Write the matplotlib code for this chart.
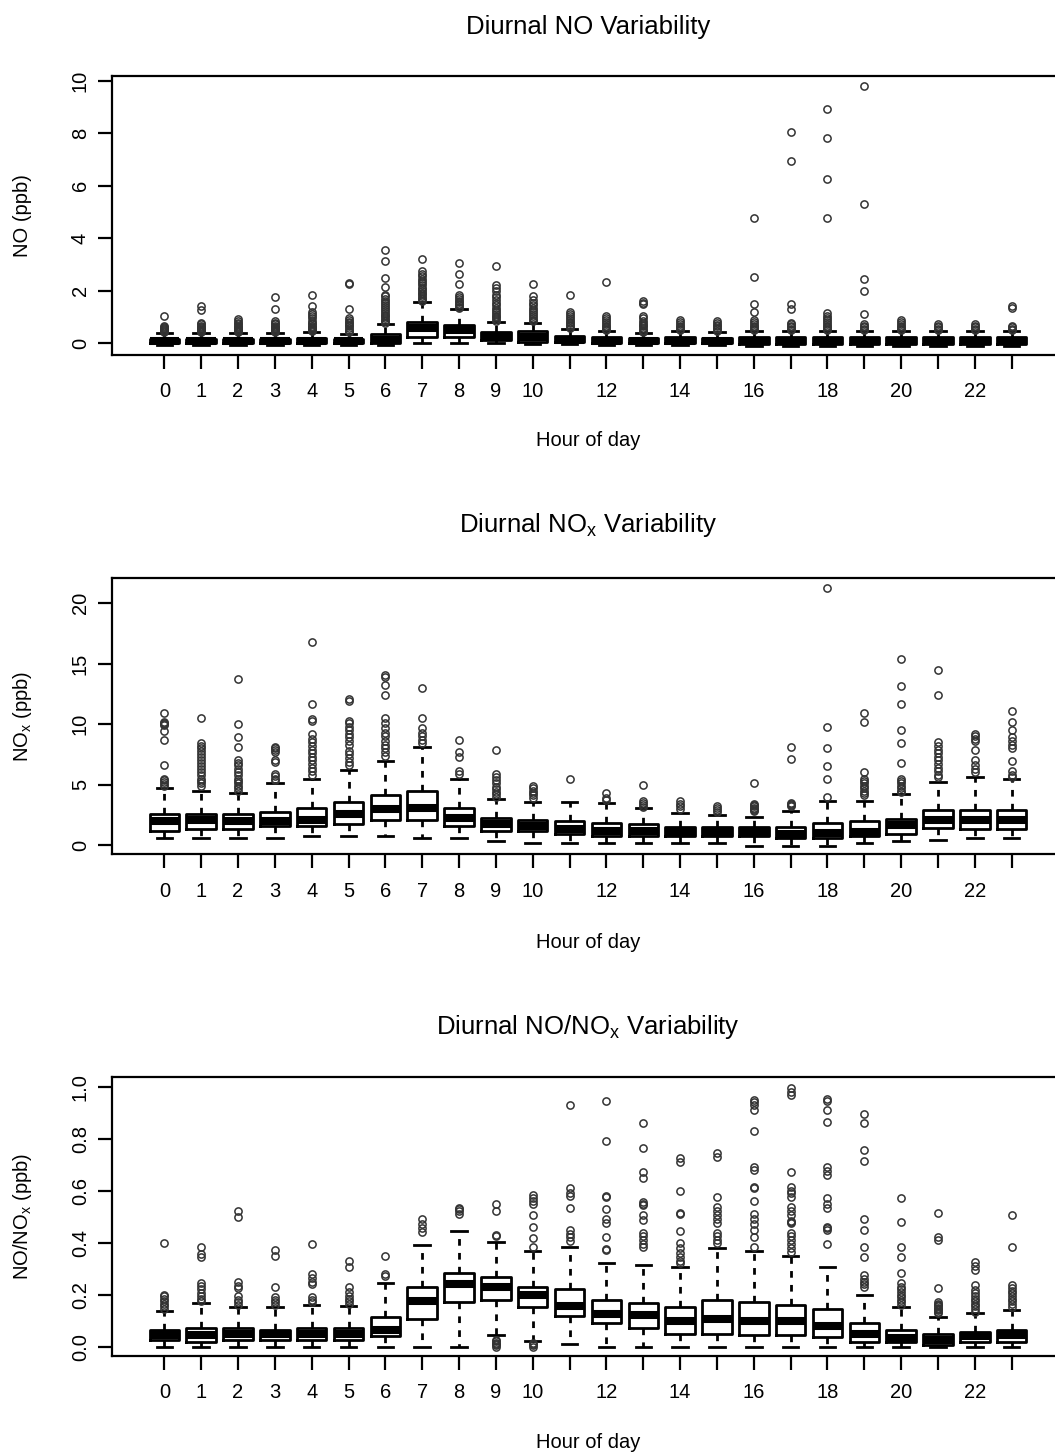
import matplotlib
matplotlib.use('Agg')
import matplotlib.pyplot as plt

plt.rcParams['font.family'] = ['Liberation Sans', 'DejaVu Sans']
plt.rcParams['mathtext.fontset'] = 'custom'
plt.rcParams['mathtext.rm'] = 'Liberation Sans'
plt.rcParams['mathtext.it'] = 'Liberation Sans:italic'
plt.rcParams['mathtext.bf'] = 'Liberation Sans:bold'

# ---------------- data ----------------
hours = list(range(24))
xtick_labels = ['0', '1', '2', '3', '4', '5', '6', '7', '8', '9', '10', '',
                '12', '', '14', '', '16', '', '18', '', '20', '', '22', '']

# Panel 1: NO (ppb)
no_wlo = [-0.07, -0.07, -0.07, -0.07, -0.07, -0.05, -0.05, 0.0, 0.0, 0.0, -0.02, -0.02,
          -0.07, -0.07, -0.08, -0.07, -0.1, -0.1, -0.1, -0.1, -0.1, -0.1, -0.1, -0.1]
no_q1 = [0.0, 0.0, 0.0, 0.0, 0.0, 0.01, 0.02, 0.25, 0.23, 0.12, 0.05, 0.03,
         0.0, 0.0, 0.0, 0.0, -0.02, -0.02, -0.02, -0.02, -0.02, -0.02, -0.02, -0.02]
no_med = [0.07, 0.07, 0.07, 0.07, 0.08, 0.07, 0.14, 0.58, 0.52, 0.28, 0.25, 0.14,
          0.08, 0.08, 0.08, 0.08, 0.08, 0.07, 0.07, 0.07, 0.07, 0.07, 0.07, 0.07]
no_q3 = [0.17, 0.17, 0.17, 0.17, 0.19, 0.15, 0.37, 0.8, 0.7, 0.44, 0.45, 0.27,
         0.22, 0.2, 0.22, 0.2, 0.22, 0.22, 0.22, 0.22, 0.22, 0.22, 0.22, 0.22]
no_whi = [0.38, 0.38, 0.38, 0.38, 0.42, 0.35, 0.72, 1.56, 1.29, 0.8, 0.78, 0.53,
          0.45, 0.38, 0.45, 0.42, 0.45, 0.45, 0.45, 0.45, 0.45, 0.45, 0.45, 0.45]
no_out = [
    [0.42, 0.46, 0.5, 0.54, 0.58, 0.62, 0.66, 1.04],
    [0.42, 0.46, 0.5, 0.54, 0.58, 0.62, 0.66, 0.72, 0.77, 1.25, 1.42],
    [0.42, 0.46, 0.5, 0.54, 0.58, 0.62, 0.66, 0.72, 0.78, 0.85, 0.92],
    [0.42, 0.46, 0.5, 0.54, 0.58, 0.62, 0.66, 0.72, 0.78, 0.85, 1.3, 1.75],
    [0.46, 0.5, 0.54, 0.58, 0.62, 0.66, 0.72, 0.78, 0.86, 0.95, 1.05, 1.12, 1.2, 1.4, 1.83],
    [0.42, 0.47, 0.52, 0.58, 0.64, 0.7, 0.76, 0.82, 0.88, 0.95, 1.3, 2.25, 2.3],
    [0.78, 0.84, 0.9, 0.96, 1.02, 1.08, 1.15, 1.22, 1.3, 1.38, 1.46, 1.54, 1.62, 1.7, 1.78,
     1.85, 2.15, 2.5, 3.12, 3.55],
    [1.62, 1.68, 1.74, 1.8, 1.86, 1.92, 1.98, 2.05, 2.12, 2.2, 2.28, 2.36, 2.45, 2.55, 2.65,
     2.75, 3.2],
    [1.34, 1.39, 1.44, 1.5, 1.56, 1.62, 1.68, 1.75, 1.82, 2.25, 2.65, 3.05],
    [0.86, 0.92, 0.98, 1.05, 1.12, 1.2, 1.28, 1.36, 1.45, 1.55, 1.65, 1.75, 1.85, 2.0, 2.1,
     2.2, 2.94],
    [0.84, 0.9, 0.96, 1.03, 1.1, 1.18, 1.26, 1.35, 1.45, 1.55, 1.65, 1.78, 2.26],
    [0.58, 0.64, 0.7, 0.76, 0.82, 0.88, 0.95, 1.02, 1.1, 1.2, 1.82],
    [0.5, 0.55, 0.6, 0.66, 0.72, 0.8, 0.88, 0.96, 1.05, 2.35],
    [0.42, 0.47, 0.52, 0.58, 0.64, 0.7, 0.78, 0.86, 0.95, 1.05, 1.5, 1.55, 1.6],
    [0.5, 0.55, 0.6, 0.66, 0.72, 0.8, 0.88],
    [0.48, 0.53, 0.58, 0.64, 0.7, 0.77, 0.85],
    [0.5, 0.55, 0.6, 0.66, 0.72, 0.8, 0.88, 1.2, 1.5, 2.52, 4.76],
    [0.5, 0.55, 0.6, 0.66, 0.72, 0.78, 1.3, 1.5, 6.94, 8.06],
    [0.5, 0.55, 0.6, 0.66, 0.72, 0.8, 0.88, 0.95, 1.05, 1.14, 4.76, 6.24, 7.8, 8.93],
    [0.5, 0.55, 0.6, 0.66, 0.72, 1.12, 1.99, 2.44, 5.29, 9.81],
    [0.5, 0.55, 0.6, 0.66, 0.72, 0.8, 0.88],
    [0.5, 0.55, 0.6, 0.66, 0.72],
    [0.5, 0.55, 0.6, 0.66, 0.72],
    [0.5, 0.55, 0.6, 0.65, 1.35, 1.4],
]

# Panel 2: NOx (ppb)
nox_wlo = [0.55, 0.55, 0.55, 0.55, 0.74, 0.74, 0.74, 0.55, 0.55, 0.36, 0.14, 0.14,
           0.14, 0.14, 0.14, 0.14, -0.08, -0.08, -0.08, 0.14, 0.36, 0.41, 0.6, 0.6]
nox_q1 = [1.15, 1.35, 1.3, 1.55, 1.6, 1.7, 2.05, 2.1, 1.6, 1.15, 1.15, 0.93,
          0.73, 0.73, 0.73, 0.73, 0.73, 0.55, 0.55, 0.73, 0.93, 1.4, 1.35, 1.35]
nox_med = [1.95, 2.04, 1.96, 2.0, 2.05, 2.56, 2.98, 3.09, 2.2, 1.77, 1.57, 1.32,
           1.15, 1.15, 1.1, 1.1, 1.1, 0.95, 1.0, 1.1, 1.65, 2.07, 2.08, 2.1]
nox_q3 = [2.55, 2.6, 2.55, 2.73, 3.1, 3.55, 4.1, 4.45, 3.1, 2.2, 2.05, 1.95,
          1.83, 1.7, 1.5, 1.5, 1.5, 1.5, 1.83, 1.95, 2.15, 2.93, 2.93, 2.93]
nox_whi = [4.68, 4.5, 4.33, 5.1, 5.43, 6.2, 6.98, 8.14, 5.46, 3.78, 3.59, 3.59,
           3.45, 3.03, 2.68, 2.48, 2.29, 2.81, 3.64, 3.64, 4.22, 5.24, 5.65, 5.46]
nox_out = [
    [4.9, 5.05, 5.2, 5.35, 5.5, 6.6, 8.7, 9.4, 9.9, 10.0, 10.1, 10.2, 10.9],
    [4.9, 5.1, 5.3, 5.5, 5.8, 6.0, 6.3, 6.5, 6.8, 7.0, 7.3, 7.5, 7.8, 8.0, 8.2, 8.4, 10.55],
    [4.5, 4.7, 4.9, 5.1, 5.3, 5.5, 5.8, 6.0, 6.3, 6.6, 6.8, 7.0, 8.15, 8.9, 10.0, 13.7],
    [5.35, 5.5, 5.7, 5.9, 6.9, 7.0, 7.7, 7.85, 8.0, 8.1],
    [5.8, 6.1, 6.4, 6.7, 7.0, 7.3, 7.6, 7.9, 8.2, 8.5, 8.8, 9.2, 10.3, 10.4, 11.7, 16.8],
    [6.6, 6.9, 7.2, 7.5, 7.8, 8.3, 8.6, 8.9, 9.2, 9.5, 9.8, 10.1, 10.3, 11.9, 12.1],
    [7.4, 7.7, 8.0, 8.3, 8.6, 9.0, 9.3, 9.7, 10.1, 10.5, 12.4, 13.2, 13.9, 14.1],
    [8.4, 8.7, 9.0, 9.3, 9.7, 10.5, 13.0],
    [5.9, 6.1, 7.3, 7.7, 8.7],
    [4.0, 4.2, 4.4, 4.6, 4.8, 5.1, 5.4, 5.6, 5.9, 7.9],
    [3.9, 4.1, 4.3, 4.5, 4.7, 4.9],
    [5.43],
    [3.7, 3.9, 4.3],
    [3.17, 3.3, 3.45, 3.64, 4.97],
    [3.0, 3.2, 3.4, 3.6],
    [2.75, 2.9, 3.05, 3.2],
    [2.8, 2.9, 3.0, 3.1, 3.2, 3.3, 3.4, 5.1],
    [3.2, 3.3, 3.4, 3.5, 7.12, 8.08],
    [4.0, 5.45, 6.55, 8.05, 9.8, 21.3],
    [4.1, 4.3, 4.5, 4.7, 4.9, 5.1, 5.3, 5.5, 6.05, 10.15, 10.9],
    [4.35, 4.5, 4.7, 4.9, 5.1, 5.3, 5.5, 6.75, 8.45, 9.55, 11.65, 13.15, 15.4],
    [5.6, 5.8, 6.1, 6.4, 6.7, 7.0, 7.3, 7.6, 7.9, 8.2, 8.5, 12.4, 14.5],
    [6.0, 6.3, 6.6, 7.0, 7.85, 8.6, 8.8, 9.0, 9.2],
    [5.6, 5.8, 6.15, 6.95, 8.0, 8.3, 8.6, 8.95, 9.5, 10.15, 11.1],
]

# Panel 3: NO/NOx ratio
rat_wlo = [0.0, 0.0, 0.0, 0.0, 0.0, 0.0, 0.0, 0.0, 0.0, 0.045, 0.023, 0.01,
           0.0, 0.0, 0.0, 0.0, 0.0, 0.0, 0.0, 0.0, 0.0, 0.0, 0.0, 0.0]
rat_q1 = [0.027, 0.018, 0.025, 0.027, 0.027, 0.027, 0.04, 0.108, 0.171, 0.178, 0.153, 0.119,
          0.091, 0.073, 0.05, 0.05, 0.045, 0.043, 0.037, 0.018, 0.018, 0.005, 0.018, 0.018]
rat_med = [0.045, 0.045, 0.05, 0.048, 0.05, 0.05, 0.065, 0.176, 0.24, 0.23, 0.199, 0.157,
           0.126, 0.12, 0.1, 0.106, 0.1, 0.1, 0.08, 0.05, 0.035, 0.025, 0.04, 0.045]
rat_q3 = [0.063, 0.072, 0.072, 0.063, 0.072, 0.072, 0.115, 0.23, 0.285, 0.267, 0.23, 0.221,
          0.178, 0.167, 0.153, 0.18, 0.17, 0.16, 0.143, 0.09, 0.063, 0.047, 0.057, 0.063]
rat_whi = [0.139, 0.167, 0.154, 0.154, 0.16, 0.157, 0.244, 0.391, 0.446, 0.404, 0.369, 0.385,
           0.32, 0.314, 0.308, 0.378, 0.368, 0.349, 0.305, 0.2, 0.151, 0.115, 0.131, 0.141]
rat_out = [
    [0.145, 0.155, 0.165, 0.175, 0.185, 0.195, 0.2, 0.40],
    [0.175, 0.185, 0.195, 0.205, 0.22, 0.235, 0.245, 0.345, 0.355, 0.385],
    [0.16, 0.17, 0.18, 0.195, 0.225, 0.235, 0.25, 0.50, 0.52],
    [0.16, 0.17, 0.18, 0.19, 0.228, 0.35, 0.37],
    [0.17, 0.18, 0.19, 0.24, 0.25, 0.265, 0.28, 0.395],
    [0.165, 0.175, 0.185, 0.195, 0.21, 0.23, 0.305, 0.33],
    [0.27, 0.28, 0.35],
    [0.44, 0.455, 0.47, 0.49],
    [0.51, 0.52, 0.53, 0.535],
    [0.0, 0.005, 0.01, 0.015, 0.02, 0.025, 0.425, 0.43, 0.52, 0.55],
    [0.0, 0.005, 0.01, 0.015, 0.385, 0.417, 0.462, 0.506, 0.55, 0.56, 0.57, 0.583],
    [0.405, 0.42, 0.435, 0.45, 0.532, 0.58, 0.59, 0.61, 0.93],
    [0.37, 0.375, 0.42, 0.475, 0.49, 0.53, 0.575, 0.58, 0.79, 0.945],
    [0.385, 0.395, 0.41, 0.425, 0.436, 0.487, 0.506, 0.545, 0.55, 0.555, 0.647, 0.673,
     0.763, 0.859],
    [0.32, 0.33, 0.345, 0.36, 0.38, 0.4, 0.445, 0.51, 0.515, 0.60, 0.71, 0.725],
    [0.397, 0.41, 0.425, 0.436, 0.474, 0.49, 0.505, 0.52, 0.538, 0.577, 0.731, 0.743],
    [0.385, 0.42, 0.45, 0.47, 0.49, 0.51, 0.56, 0.61, 0.615, 0.68, 0.69, 0.83, 0.91, 0.93,
     0.94, 0.95],
    [0.365, 0.38, 0.395, 0.41, 0.425, 0.436, 0.475, 0.48, 0.485, 0.506, 0.52, 0.538, 0.577,
     0.59, 0.6, 0.615, 0.673, 0.968, 0.98, 0.993],
    [0.394, 0.45, 0.455, 0.46, 0.532, 0.55, 0.57, 0.66, 0.675, 0.692, 0.865, 0.91, 0.945,
     0.951],
    [0.23, 0.24, 0.25, 0.26, 0.275, 0.345, 0.385, 0.45, 0.49, 0.715, 0.755, 0.86, 0.895],
    [0.16, 0.17, 0.18, 0.19, 0.2, 0.21, 0.22, 0.23, 0.244, 0.282, 0.344, 0.385, 0.481, 0.571],
    [0.128, 0.135, 0.14, 0.145, 0.15, 0.155, 0.16, 0.165, 0.173, 0.225, 0.41, 0.42, 0.515],
    [0.135, 0.145, 0.155, 0.165, 0.175, 0.185, 0.195, 0.205, 0.218, 0.237, 0.295, 0.31,
     0.327],
    [0.154, 0.165, 0.175, 0.185, 0.195, 0.205, 0.215, 0.225, 0.237, 0.385, 0.507],
]

no_yticks = [0, 2, 4, 6, 8, 10]
nox_yticks = [0, 5, 10, 15, 20]
rat_yticks = [0.0, 0.2, 0.4, 0.6, 0.8, 1.0]
rat_ytick_labels = ['0.0', '0.2', '0.4', '0.6', '0.8', '1.0']

titles = ['Diurnal NO Variability',
          r'Diurnal NO$_{\mathregular{x}}$ Variability',
          r'Diurnal NO/NO$_{\mathregular{x}}$ Variability']
ylabels = ['NO (ppb)', r'NO$_{\mathregular{x}}$ (ppb)', r'NO/NO$_{\mathregular{x}}$ (ppb)']
xlabel = 'Hour of day'

# ---------------- figure ----------------
W, H = 1055, 1456
fig = plt.figure(figsize=(W / 100, H / 100), dpi=100)

ax_left_px, ax_right_px = 112, 1064
panels = [
    dict(top=76, bottom=354.5, ylim=(-0.43, 10.18), yt=no_yticks,
         ytl=[str(v) for v in no_yticks],
         data=(no_wlo, no_q1, no_med, no_q3, no_whi, no_out),
         title_y=27, xlab_y=441),
    dict(top=578.3, bottom=854, ylim=(-0.745, 22.07), yt=nox_yticks,
         ytl=[str(v) for v in nox_yticks],
         data=(nox_wlo, nox_q1, nox_med, nox_q3, nox_whi, nox_out),
         title_y=525, xlab_y=942),
    dict(top=1077.3, bottom=1355.5, ylim=(-0.034, 1.036), yt=rat_yticks,
         ytl=rat_ytick_labels,
         data=(rat_wlo, rat_q1, rat_med, rat_q3, rat_whi, rat_out),
         title_y=1027, xlab_y=1443),
]

LW = 2.0
for i, p in enumerate(panels):
    ax = fig.add_axes([ax_left_px / W, 1 - p['bottom'] / H,
                       (ax_right_px - ax_left_px) / W, (p['bottom'] - p['top']) / H])
    wlo, q1, med, q3, whi, outl = p['data']
    stats = [dict(whislo=wlo[k], q1=q1[k], med=med[k], q3=q3[k], whishi=whi[k],
                  fliers=outl[k]) for k in range(len(hours))]
    ax.bxp(stats, positions=hours, widths=0.8, capwidths=0.42, showfliers=True,
           boxprops=dict(color='black', linewidth=LW),
           whiskerprops=dict(color='black', linewidth=LW, linestyle=(0, (2.4, 2.6))),
           capprops=dict(color='black', linewidth=LW),
           medianprops=dict(color='black', linewidth=5.8, solid_capstyle='butt'),
           flierprops=dict(marker='o', markerfacecolor='none', markeredgecolor='#333333',
                           markersize=5.2, markeredgewidth=1.1, linestyle='none'),
           manage_ticks=False)
    ax.set_xlim(-1.42, 24.42)
    ax.set_ylim(*p['ylim'])
    ax.set_xticks(hours)
    ax.set_xticklabels(xtick_labels)
    ax.set_yticks(p['yt'])
    ax.set_yticklabels(p['ytl'])
    for s in ax.spines.values():
        s.set_linewidth(1.6)
    ax.tick_params(axis='both', direction='out', length=10, width=1.6, labelsize=14.5,
                   colors='black')
    ax.tick_params(axis='x', pad=10)
    ax.tick_params(axis='y', pad=6, labelrotation=90)
    for lab in ax.get_yticklabels():
        lab.set_verticalalignment('center')

    cx = ((ax_left_px + ax_right_px) / 2) / W
    fig.text(cx, 1 - p['title_y'] / H, titles[i], ha='center', va='center', fontsize=18.5)
    fig.text(cx, 1 - p['xlab_y'] / H, xlabel, ha='center', va='center', fontsize=14.5)
    fig.text(22 / W, 1 - ((p['top'] + p['bottom']) / 2) / H, ylabels[i], ha='center',
             va='center', rotation=90, fontsize=14.5)

fig.savefig('out.png', dpi=100)
